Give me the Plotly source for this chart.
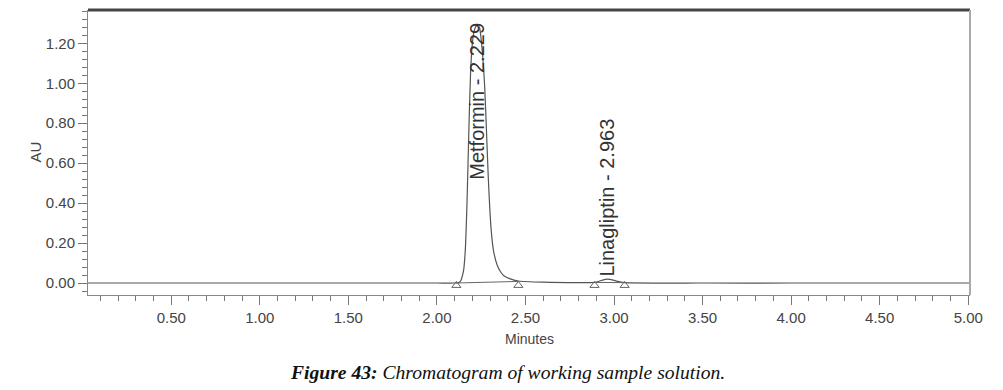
import plotly.graph_objects as go

# Chromatogram readings (minutes, AU)
time_min = [0.03, 0.50, 1.00, 1.50, 2.00, 2.10, 2.13, 2.15, 2.16, 2.17, 2.18, 2.19, 2.20,
            2.21, 2.22, 2.229, 2.24, 2.25, 2.26, 2.27, 2.28, 2.29, 2.30, 2.31, 2.32, 2.34,
            2.36, 2.38, 2.41, 2.46, 2.60, 2.80, 2.89, 2.92, 2.94, 2.963, 2.99, 3.02, 3.06,
            3.50, 4.00, 4.50, 5.01]
au = [0.000, 0.000, 0.000, 0.000, 0.000, 0.000, 0.005, 0.060, 0.160, 0.400, 0.750, 1.050, 1.200,
      1.260, 1.285, 1.290, 1.280, 1.220, 1.120, 0.980, 0.760, 0.530, 0.350, 0.230, 0.160, 0.090,
      0.055, 0.035, 0.022, 0.010, 0.004, 0.002, 0.003, 0.010, 0.016, 0.019, 0.016, 0.008, 0.002,
      0.000, 0.000, 0.000, 0.000]

# Integration baselines (start/end of each peak)
peak_names = ["Metformin", "Linagliptin"]
peak_rt = [2.229, 2.963]
base_start_t = [2.11, 2.89]
base_end_t = [2.46, 3.06]
base_start_au = [0.000, 0.003]
base_end_au = [0.008, 0.002]
marker_au = -0.012
label_center_au = [0.91, 0.43]

x_tick_vals = [0.5, 1.0, 1.5, 2.0, 2.5, 3.0, 3.5, 4.0, 4.5, 5.0]
y_tick_vals = [0.0, 0.2, 0.4, 0.6, 0.8, 1.0, 1.2]

fig = go.Figure()
fig.add_trace(go.Scatter(x=time_min, y=au, mode="lines", line=dict(color="#555555", width=1.2, shape="spline", smoothing=0.6),
                         showlegend=False, hoverinfo="skip"))
for i in range(len(peak_names)):
    fig.add_trace(go.Scatter(x=[base_start_t[i], base_end_t[i]], y=[base_start_au[i], base_end_au[i]],
                             mode="lines", line=dict(color="#666666", width=1), showlegend=False, hoverinfo="skip"))
    fig.add_trace(go.Scatter(x=[base_start_t[i], base_end_t[i]], y=[marker_au, marker_au], mode="markers",
                             marker=dict(symbol="triangle-up-open", size=8, color="#666666", line=dict(width=1)),
                             showlegend=False, hoverinfo="skip"))
    fig.add_annotation(x=peak_rt[i], y=label_center_au[i], xref="x", yref="y",
                       text=f"{peak_names[i]} - {peak_rt[i]:.3f}", textangle=-90, showarrow=False,
                       xanchor="center", yanchor="middle",
                       font=dict(family="Liberation Sans, Arial", size=20, color="#333333"))

tick_font = dict(family="Liberation Sans, Arial", size=15, color="#444444")
fig.update_xaxes(range=[0.03, 5.01], tickvals=x_tick_vals, tickformat=".2f", ticks="outside", ticklen=9,
                 tickcolor="#777777", showline=True, linecolor="#888888", linewidth=1, showgrid=False,
                 zeroline=False, tickfont=tick_font,
                 minor=dict(dtick=0.1, tick0=0, ticks="outside", ticklen=5, tickcolor="#777777"))
fig.update_yaxes(range=[-0.06, 1.367], tickvals=y_tick_vals, tickformat=".2f", ticks="outside", ticklen=9,
                 tickcolor="#777777", showline=True, linecolor="#888888", linewidth=1, showgrid=False,
                 zeroline=False, tickfont=tick_font,
                 minor=dict(dtick=0.04, tick0=0, ticks="outside", ticklen=5, tickcolor="#777777"))

fig.add_shape(type="line", xref="paper", yref="paper", x0=0, x1=1, y0=1, y1=1, line=dict(color="#444444", width=3))
fig.add_shape(type="line", xref="paper", yref="paper", x0=1, x1=1, y0=0, y1=1, line=dict(color="#aaaaaa", width=2))

fig.add_annotation(x=0, y=0.5, xref="paper", yref="paper", xshift=-53, text="AU", textangle=-90, showarrow=False,
                   xanchor="center", yanchor="middle",
                   font=dict(family="Liberation Sans, Arial", size=15, color="#444444"))
fig.add_annotation(x=0.5, y=0, xref="paper", yref="paper", yshift=-44, text="Minutes", showarrow=False,
                   xanchor="center", yanchor="middle",
                   font=dict(family="Liberation Sans, Arial", size=14, color="#444444"))
fig.add_annotation(x=0.476, y=0, xref="paper", yref="paper", yshift=-77,
                   text="<b><i>Figure 43:</i></b><i> Chromatogram of working sample solution.</i>", showarrow=False,
                   xanchor="center", yanchor="middle",
                   font=dict(family="Liberation Serif, Times New Roman", size=19.6, color="#111111"))

# page body has an 8px default margin, so the figure is sized to fit inside the window
fig.update_layout(width=995, height=382, margin=dict(l=80, r=33, t=2, b=95),
                  plot_bgcolor="white", paper_bgcolor="white")
fig.write_html("out.html")
